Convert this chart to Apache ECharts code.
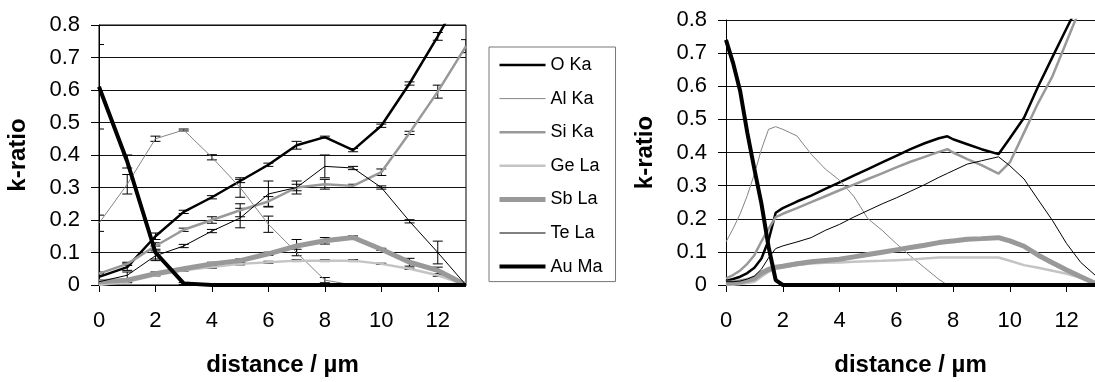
<!DOCTYPE html>
<html>
<head>
<meta charset="utf-8">
<script src="https://cdn.jsdelivr.net/npm/echarts@6/dist/echarts.min.js"></script>
<style>
html, body { margin: 0; padding: 0; background: #fff; }
#main { width: 1095px; height: 382px; }
</style>
</head>
<body>
<div id="main"></div>
<script>
// measured profile (left), one point per micrometre
var dist = [0, 1, 2, 3, 4, 5, 6, 7, 8, 9, 10, 11, 12, 13];
var oKa  = [0.025, 0.055, 0.15, 0.225, 0.27, 0.32, 0.37, 0.43, 0.455, 0.415, 0.49, 0.62, 0.765, 0.92];
var alKa = [0.19, 0.31, 0.45, 0.477, 0.393, 0.30, 0.187, 0.10, 0.015, 0, 0, 0, 0, 0];
var siKa = [0.035, 0.065, 0.12, 0.17, 0.2, 0.23, 0.257, 0.30, 0.31, 0.305, 0.347, 0.468, 0.595, 0.735];
var geLa = [0, 0.01, 0.03, 0.045, 0.055, 0.065, 0.07, 0.075, 0.075, 0.075, 0.065, 0.05, 0.03, 0];
var sbLa = [0.01, 0.015, 0.035, 0.05, 0.065, 0.075, 0.096, 0.12, 0.136, 0.146, 0.11, 0.07, 0.045, 0];
var teLa = [0.01, 0.03, 0.09, 0.12, 0.166, 0.206, 0.28, 0.30, 0.365, 0.36, 0.30, 0.196, 0.10, 0];
var auMa = [0.61, 0.38, 0.10, 0.005, 0, 0, 0, 0, 0, 0, 0, 0, 0, 0];

// error bar half widths
var oKaErr  = [0.01, 0.01, 0.01, 0.005, 0.005, 0.005, 0.005, 0.012, 0.003, 0.005, 0.005, 0.005, 0.012, 0];
var alKaErr = [0.025, 0.03, 0.008, 0.003, 0.008, 0.03, 0.025, 0.01, 0.008, 0, 0, 0, 0, 0];
var siKaErr = [0.005, 0.005, 0.01, 0.005, 0.01, 0.02, 0.015, 0.01, 0.015, 0.005, 0.01, 0.005, 0.02, 0.02];
var geLaErr = [0.005, 0.003, 0.002, 0.002, 0.003, 0.003, 0.003, 0.003, 0.003, 0.003, 0.002, 0.002, 0.003, 0];
var sbLaErr = [0.005, 0.005, 0.005, 0.003, 0.005, 0.005, 0.005, 0.02, 0.01, 0.005, 0.003, 0.012, 0.01, 0];
var teLaErr = [0.005, 0.01, 0.015, 0.005, 0.005, 0.03, 0.04, 0.02, 0.035, 0.005, 0.005, 0.005, 0.035, 0];
var auMaErr = [0.13, 0.02, 0.02, 0.003, 0, 0, 0, 0, 0, 0, 0, 0, 0, 0];

// simulated profile (right)
var distSim = [0, 0.25, 0.5, 0.75, 1, 1.25, 1.5, 1.75, 2, 2.5, 3, 3.5, 4, 4.5, 5, 5.5, 6, 6.5, 7, 7.5, 7.8, 8, 8.5, 9, 9.6, 10, 10.5, 11, 11.5, 12, 12.5, 13];
var oKaSim  = [0.012, 0.018, 0.025, 0.036, 0.052, 0.08, 0.135, 0.218, 0.232, 0.252, 0.27, 0.29, 0.31, 0.33, 0.35, 0.37, 0.39, 0.41, 0.428, 0.443, 0.449, 0.44, 0.425, 0.41, 0.395, 0.443, 0.505, 0.6, 0.688, 0.775, 0.86, 0.95];
var alKaSim = [0.13, 0.17, 0.215, 0.27, 0.335, 0.41, 0.47, 0.478, 0.47, 0.45, 0.395, 0.35, 0.316, 0.268, 0.2, 0.165, 0.125, 0.087, 0.052, 0.017, 0, 0, 0, 0, 0, 0, 0, 0, 0, 0, 0, 0];
var siKaSim = [0.02, 0.03, 0.044, 0.064, 0.09, 0.132, 0.17, 0.205, 0.215, 0.232, 0.25, 0.268, 0.286, 0.303, 0.32, 0.337, 0.355, 0.372, 0.387, 0.402, 0.41, 0.4, 0.38, 0.362, 0.336, 0.37, 0.46, 0.55, 0.63, 0.735, 0.84, 0.96];
var geLaSim = [0, 0.001, 0.003, 0.006, 0.01, 0.025, 0.04, 0.048, 0.052, 0.06, 0.065, 0.067, 0.068, 0.07, 0.072, 0.073, 0.075, 0.077, 0.08, 0.083, 0.083, 0.083, 0.083, 0.083, 0.083, 0.073, 0.06, 0.052, 0.043, 0.034, 0.022, 0.005];
var sbLaSim = [0.005, 0.007, 0.01, 0.014, 0.02, 0.036, 0.047, 0.054, 0.057, 0.064, 0.07, 0.074, 0.078, 0.085, 0.092, 0.099, 0.106, 0.113, 0.12, 0.128, 0.131, 0.133, 0.138, 0.14, 0.143, 0.133, 0.117, 0.09, 0.067, 0.045, 0.025, 0.005];
var teLaSim = [0.01, 0.01, 0.012, 0.018, 0.027, 0.048, 0.082, 0.11, 0.118, 0.13, 0.143, 0.165, 0.183, 0.205, 0.225, 0.245, 0.263, 0.283, 0.303, 0.325, 0.337, 0.345, 0.365, 0.375, 0.387, 0.36, 0.32, 0.257, 0.195, 0.125, 0.068, 0.03];
var auMaSim = [0.74, 0.67, 0.585, 0.46, 0.35, 0.245, 0.115, 0.015, 0, 0, 0, 0, 0, 0, 0, 0, 0, 0, 0, 0, 0, 0, 0, 0, 0, 0, 0, 0, 0, 0, 0, 0];

var xTicks = [0, 2, 4, 6, 8, 10, 12];

var elements = [
    {name: 'O Ka',  color: '#000000', width: 2.5, meas: oKa,  err: oKaErr,  sim: oKaSim},
    {name: 'Al Ka', color: '#858585', width: 1,   meas: alKa, err: alKaErr, sim: alKaSim},
    {name: 'Si Ka', color: '#999999', width: 2.5, meas: siKa, err: siKaErr, sim: siKaSim},
    {name: 'Ge La', color: '#c4c4c4', width: 2.5, meas: geLa, err: geLaErr, sim: geLaSim},
    {name: 'Sb La', color: '#999999', width: 5,   meas: sbLa, err: sbLaErr, sim: sbLaSim},
    {name: 'Te La', color: '#000000', width: 1,   meas: teLa, err: teLaErr, sim: teLaSim},
    {name: 'Au Ma', color: '#000000', width: 4,   meas: auMa, err: auMaErr, sim: auMaSim}
];

var font = 'Liberation Sans, Arial, sans-serif';

function pairs(xs, ys)
{
    return xs.map(function(x, i) { return [x, ys[i]]; });
}

function renderErrorBar(params, api)
{
    var e = api.value(2);
    if(!e) return;
    var x = api.value(0), y = api.value(1);
    var top = api.coord([x, y + e]);
    var bot = api.coord([x, y - e]);
    var w = 5;
    var style = {stroke: '#000', lineWidth: 1};
    return {
        type: 'group',
        children: [
            {type: 'line', shape: {x1: top[0], y1: top[1], x2: bot[0], y2: bot[1]}, style: style},
            {type: 'line', shape: {x1: top[0] - w, y1: top[1], x2: top[0] + w, y2: top[1]}, style: style},
            {type: 'line', shape: {x1: bot[0] - w, y1: bot[1], x2: bot[0] + w, y2: bot[1]}, style: style}
        ]
    };
}

function makeXAxis(gridIndex)
{
    return {
        type: 'value', gridIndex: gridIndex, min: 0, max: 13, interval: 2,
        axisLine: {show: true, onZero: false, lineStyle: {color: '#000', width: 1}},
        axisTick: {show: true, length: 7, lineStyle: {color: '#000'}},
        axisLabel: {fontSize: 22, color: '#000', fontFamily: font, margin: 25, showMaxLabel: false,
            formatter: function(v) { return xTicks.indexOf(v) >= 0 ? String(v) : ''; }},
        splitLine: {show: false},
        name: 'distance / µm', nameLocation: 'middle', nameGap: 68,
        nameTextStyle: {fontSize: 24, fontWeight: 'bold', color: '#000', fontFamily: font}
    };
}

function makeYAxis(gridIndex)
{
    return {
        type: 'value', gridIndex: gridIndex, min: 0, max: 0.8, interval: 0.1,
        axisLine: {show: true, lineStyle: {color: '#000', width: 1}},
        axisTick: {show: true, length: 8, lineStyle: {color: '#000'}},
        axisLabel: {fontSize: 22, color: '#000', fontFamily: font, margin: 19},
        splitLine: {show: true, lineStyle: {color: '#111', width: 1}},
        name: 'k-ratio', nameLocation: 'middle', nameGap: 69,
        nameTextStyle: {fontSize: 24, fontWeight: 'bold', color: '#000', fontFamily: font}
    };
}

var series = [];
elements.forEach(function(el)
{
    series.push({
        name: el.name, type: 'line', xAxisIndex: 0, yAxisIndex: 0,
        data: pairs(dist, el.meas), symbol: 'none', clip: true,
        lineStyle: {color: el.color, width: el.width}, itemStyle: {color: el.color, opacity: 0}
    });
});
elements.forEach(function(el)
{
    series.push({
        type: 'custom', xAxisIndex: 0, yAxisIndex: 0, clip: true, z: 3,
        renderItem: renderErrorBar,
        data: dist.map(function(d, i) { return [d, el.meas[i], el.err[i]]; })
    });
});
elements.forEach(function(el)
{
    series.push({
        name: el.name, type: 'line', xAxisIndex: 1, yAxisIndex: 1,
        data: pairs(distSim, el.sim), symbol: 'none', clip: true,
        lineStyle: {color: el.color, width: el.width}, itemStyle: {color: el.color, opacity: 0}
    });
});

var chart = echarts.init(document.getElementById('main'), null, {renderer: 'canvas'});
chart.setOption({
    animation: false,
    backgroundColor: '#fff',
    textStyle: {fontFamily: font},
    grid: [
        {left: 99, top: 25, width: 367, height: 265, show: true, borderColor: '#000', borderWidth: 1, backgroundColor: 'transparent'},
        {left: 726, top: 20, width: 372, height: 270}
    ],
    xAxis: [makeXAxis(0), makeXAxis(1)],
    yAxis: [makeYAxis(0), makeYAxis(1)],
    legend: {
        orient: 'vertical', left: 489, top: 47,
        data: elements.map(function(el)
        {
            return {name: el.name, itemStyle: {opacity: 0}, lineStyle: {width: el.width, color: el.color}};
        }),
        itemWidth: 46, itemHeight: 18, itemGap: 15.6,
        padding: [9, 13, 6, 8],
        borderColor: '#777', borderWidth: 1,
        selectedMode: false,
        itemStyle: {opacity: 0},
        lineStyle: {width: 'inherit'},
        textStyle: {fontSize: 18, color: '#000', fontFamily: font, lineHeight: 18}
    },
    series: series
});
</script>
</body>
</html>
